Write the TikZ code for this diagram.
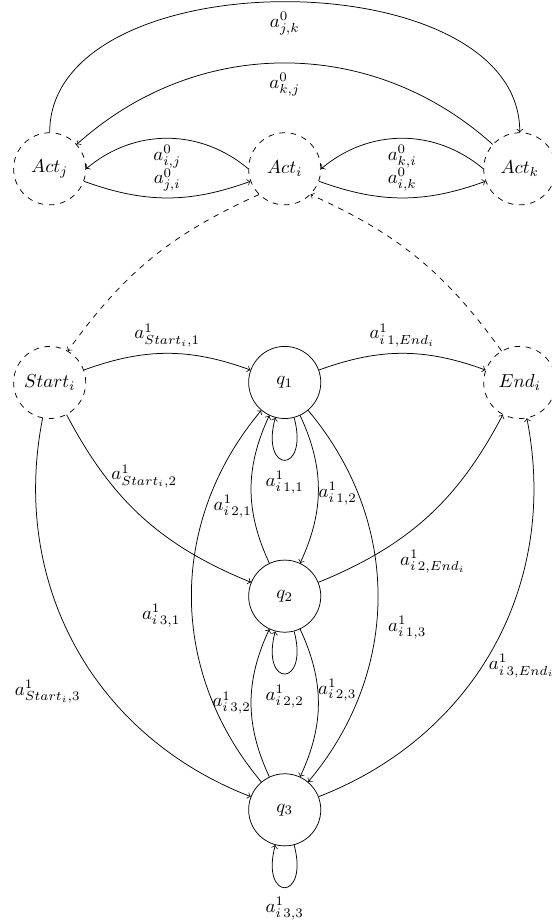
\documentclass[tikz,border=0pt]{standalone}
\begin{document}
	\begin{tikzpicture}[st/.style={circle, draw, minimum size=1.35cm}, dst/.style={st, dashed}, lp/.style={inner sep=0pt}]
		\useasboundingbox (-5.33,-10.1) rectangle (4.99,7.16);
		\node[dst] (actj) at (-4.4,4) {$Act_j$};
		\node[dst] (acti) at (0,4) {$Act_i$};
		\node[dst] (actk) at (4.4,4) {$Act_k$};
		\node[dst] (start) at (-4.4,0) {$Start_i$};
		\node[dst] (end) at (4.4,0) {$End_i$};
		\node[st] (q1) at (0,0) {$q_1$};
		\node[st] (q2) at (0,-4) {$q_2$};
		\node[st] (q3) at (0,-8) {$q_3$};
		\draw[->] (actj.north) to[out=90, in=90, looseness=.95] node[below=.7mm] {$a^0_{j,k}$} (actk.north);
		\draw[->] (actk) to[bend right=42] node[below=.7mm] {$a^0_{k,j}$} (actj);
		\draw[->] (acti.west) to[bend right=40] node[below] {$a^0_{i,j}$} (actj.east);
		\draw[->] (actj) to[bend right=20] node[above] {$a^0_{j,i}$} (acti);
		\draw[->] (actk.west) to[bend right=40] node[below] {$a^0_{k,i}$} (acti.east);
		\draw[->] (acti) to[bend right=20] node[above] {$a^0_{i,k}$} (actk);
		\draw[->, dashed] (acti.south west) to[bend right=15] (start.60);
		\draw[->, dashed] (end.120) to[bend right=15] (acti.south east);
		\draw[->] (start) to[bend left=20] node[above] {$a^1_{Start_i,1}$} (q1);
		\draw[->] (q1) to[bend left=20] node[above] {$a^1_{i\,1,End_i}$} (end);
		\draw[->] (start) to[bend right=20] node[pos=.27, right] {$a^1_{Start_i,2}$} (q2);
		\draw[->] (start) to[bend right=40] node[pos=.62, left=3.5mm] {$a^1_{Start_i,3}$} (q3);
		\draw[->] (q2) to[bend right=20] node[pos=.32, below right] {$a^1_{i\,2,End_i}$} (end);
		\draw[->] (q3) to[bend right=40] node[pos=.45, right] {$a^1_{i\,3,End_i}$} (end);
		\draw[->] (q1) to[loop below] node[below=.8mm] {$a^1_{i\,1,1}$} ();
		\draw[->] (q2) to[loop below] node[below=.8mm] {$a^1_{i\,2,2}$} ();
		\draw[->] (q3) to[loop below] node[below=.6mm] {$a^1_{i\,3,3}$} ();
		\draw[->] (q1) to[bend left=25] node[pos=.53, right, lp] {$a^1_{i\,1,2}$} (q2);
		\draw[->] (q2) to[bend left=25] node[pos=.38, left, lp] {$a^1_{i\,2,1}$} (q1);
		\draw[->] (q2) to[bend left=25] node[pos=.41, right, lp] {$a^1_{i\,2,3}$} (q3);
		\draw[->] (q3) to[bend left=25] node[pos=.5, left, lp] {$a^1_{i\,3,2}$} (q2);
		\draw[->] (q3) to[bend left=40] node[pos=.45, left=1mm] {$a^1_{i\,3,1}$} (q1);
		\draw[->] (q1) to[bend left=40] node[pos=.58, right=1mm] {$a^1_{i\,1,3}$} (q3);
	\end{tikzpicture}
\end{document}
